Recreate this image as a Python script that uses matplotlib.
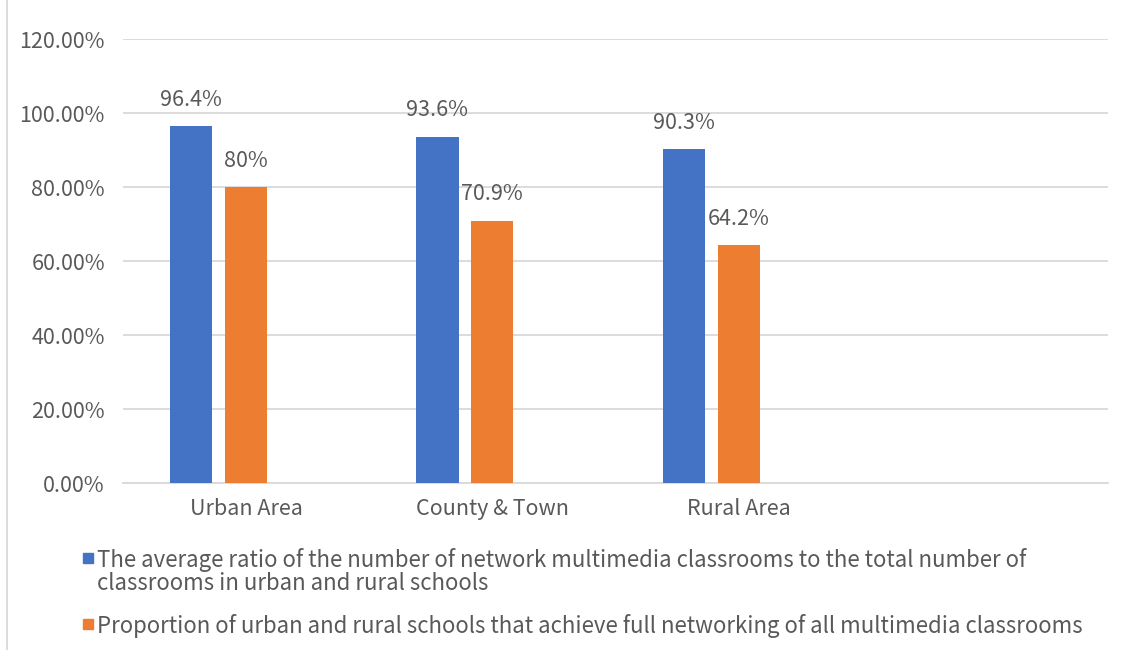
import matplotlib.pyplot as plt
from matplotlib.lines import Line2D
from matplotlib.patches import Rectangle
import numpy as np

plt.rcParams['font.family'] = ['Noto Sans CJK SC', 'DejaVu Sans']

# data
categories = ['Urban Area', 'County & Town', 'Rural Area', '']
avg_ratio = [96.4, 93.6, 90.3]
full_network = [80.0, 70.9, 64.2]
avg_labels = ['96.4%', '93.6%', '90.3%']
full_labels = ['80%', '70.9%', '64.2%']
series_names = [
    'The average ratio of the number of network multimedia classrooms to the total number of\nclassrooms in urban and rural schools',
    'Proportion of urban and rural schools that achieve full networking of all multimedia classrooms',
]

blue = '#4472C4'
orange = '#ED7D31'
text_col = '#595959'
grid_col = '#D9D9D9'
fs = 15.5

W, H = 1126, 650
fig = plt.figure(figsize=(W / 100, H / 100), dpi=100)
ax = fig.add_axes([123 / W, 1 - 483 / H, 985 / W, 444 / H])

x = np.arange(len(avg_ratio))
w = 0.171
off = 0.223
b1 = ax.bar(x - off, avg_ratio, width=w, color=blue, zorder=3)
b2 = ax.bar(x, full_network, width=w, color=orange, zorder=3)

for bars, labs in [(b1, avg_labels), (b2, full_labels)]:
    for rect, lab in zip(bars, labs):
        ax.annotate(lab, (rect.get_x() + rect.get_width() / 2, rect.get_height()),
                    xytext=(0, 19), textcoords='offset points', ha='center', va='center',
                    fontsize=fs, color=text_col)

ax.set_xlim(-0.5, 3.5)
ax.set_ylim(0, 120)
ax.set_yticks(np.arange(0, 121, 20))
ax.set_yticklabels(['%.2f%%' % v for v in np.arange(0, 121, 20)])
ax.set_xticks(np.arange(len(categories)))
ax.set_xticklabels(categories)
ax.tick_params(axis='both', length=0, labelsize=fs, colors=text_col)
ax.tick_params(axis='y', pad=13)
ax.tick_params(axis='x', pad=11)
ax.grid(axis='y', color=grid_col, linewidth=1.3, zorder=0)
for s in ['top', 'right', 'left']:
    ax.spines[s].set_visible(False)
ax.spines['bottom'].set_color(grid_col)
ax.spines['bottom'].set_linewidth(1.3)

# legend drawn by hand so the marker sits on the first line of a wrapped label
line_y = [[560, 584], [626]]
colors = [blue, orange]
for name, ys, c in zip(series_names, line_y, colors):
    fig.add_artist(Rectangle((83 / W, 1 - (ys[0] + 3) / H), 10 / W, 10 / H,
                             color=c, transform=fig.transFigure))
    for part, yy in zip(name.split('\n'), ys):
        fig.text(97 / W, 1 - yy / H, part, ha='left', va='center',
                 fontsize=16, color=text_col)

# chart frame left edge
fig.add_artist(Line2D([7 / W, 7 / W], [0, 1], color=grid_col, linewidth=1.3))

fig.savefig('out.png', dpi=100)
